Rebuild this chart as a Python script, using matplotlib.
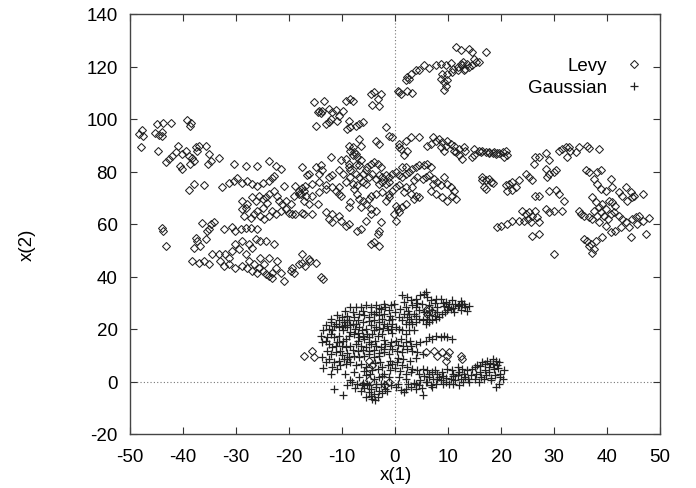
import matplotlib
matplotlib.use("Agg")
import matplotlib.pyplot as plt

# ---------------- data ----------------
levy_points = [
    # far left / upper left
    (-47.8,95.8),(-48.3,94.3),(-47.6,93.6),(-47.9,89.4),(-45.2,94.5),(-44.5,94.0),(-43.9,93.6),(-44.0,94.9),
    (-44.9,98.1),(-43.7,98.3),(-42.3,98.6),(-39.2,99.6),(-38.4,98.3),(-38.6,97.5),(-44.8,87.9),(-43.3,83.8),
    (-42.7,84.7),(-42.0,86.0),(-41.4,87.3),(-40.9,89.8),(-40.1,86.6),(-39.5,87.9),(-38.9,86.0),(-38.3,85.3),
    (-37.6,89.2),(-37.3,87.9),(-37.0,89.8),(-37.9,84.1),(-38.6,82.8),(-40.1,80.9),(-40.5,82.2),(-35.7,89.8),
    (-35.1,86.6),(-34.8,84.1),(-35.2,82.8),(-33.2,85.1),(-30.4,82.8),(-28.2,82.2),(-26.0,82.2),(-23.8,84.1),
    (-22.5,82.2),(-21.6,80.9),(-22.8,78.3),
    # band ~75
    (-38.9,72.9),(-37.9,75.2),(-36.0,74.8),(-32.6,74.1),(-31.3,75.8),(-30.4,76.4),(-29.8,77.5),(-28.8,75.8),
    (-27.9,76.4),(-26.9,75.2),(-26.0,74.5),(-25.0,75.8),(-23.8,76.4),(-23.2,77.7),(-20.9,74.3),(-18.8,74.5),
    (-18.1,72.6),(-17.5,73.6),(-17.0,74.5),(-16.6,78.7),
    # dense cluster ~65
    (-28.8,68.8),(-27.9,67.5),(-26.9,70.1),(-26.3,68.8),(-25.7,70.7),(-25.0,69.4),(-24.4,70.1),(-24.1,68.1),
    (-25.0,66.2),(-26.0,65.0),(-26.6,63.7),(-27.2,62.4),(-28.2,66.2),(-28.8,65.6),(-23.8,71.3),(-22.8,72.6),
    (-22.2,70.7),(-21.9,68.8),(-21.3,67.5),(-20.6,65.6),(-20.0,64.3),(-19.4,63.7),(-18.8,63.7),(-17.5,64.3),
    (-22.5,63.7),(-23.2,65.0),(-21.6,65.0),(-19.1,70.7),(-18.1,71.3),(-17.2,68.8),(-28.5,63.1),(-25.4,63.1),
    (-24.7,61.8),(-23.8,63.1),(-20.6,68.8),(-19.7,67.5),
    # lower left
    (-43.9,58.6),(-43.7,57.3),(-43.3,51.6),(-36.5,60.5),(-34.8,59.9),(-34.2,60.9),(-35.1,58.0),(-35.4,57.3),
    (-32.3,58.0),(-30.7,58.8),(-30.1,57.3),(-29.1,58.0),(-28.2,58.6),(-27.2,58.6),(-26.0,58.0),(-37.6,54.8),
    (-37.3,53.5),(-36.7,51.6),(-35.7,54.1),(-37.9,51.0),(-34.5,48.4),(-33.2,48.7),(-32.0,48.4),(-31.3,47.1),
    (-30.7,49.7),(-29.4,50.3),(-30.1,52.2),(-28.8,53.5),(-27.6,52.2),(-26.9,51.0),(-26.3,54.1),(-25.4,53.5),
    (-24.4,53.5),(-22.8,52.2),(-28.2,48.4),(-27.6,45.9),(-26.6,44.6),(-25.7,43.3),(-25.0,42.0),(-24.4,40.8),
    (-23.8,40.1),(-23.2,41.4),(-22.5,43.3),(-24.7,44.6),(-25.4,47.1),(-23.8,47.1),(-22.2,45.9),(-21.6,41.4),
    (-20.9,38.2),(-23.2,39.5),(-26.0,41.4),(-26.9,42.0),(-27.9,43.3),(-38.3,45.9),(-37.0,45.2),(-36.0,45.9),
    (-35.1,44.8),(-33.0,45.9),(-32.3,43.9),(-31.3,44.6),(-30.1,43.3),(-28.8,43.9),(-19.4,43.3),(-19.1,41.4),
    (-18.1,44.6),(-17.5,45.2),(-16.9,43.9),(-19.7,42.0),(-15.0,45.0),(-14.0,40.0),(-16.0,46.0),(-13.5,39.0),
    (-17.5,48.6),(-16.2,46.7),
    # top right cluster
    (11.5,127.4),(12.4,126.1),(14.0,126.7),(14.6,125.4),(17.1,125.4),(5.5,120.4),(6.4,119.5),(7.7,120.6),
    (8.6,121.0),(9.6,120.6),(10.5,121.4),(12.4,121.0),(12.7,120.4),(13.3,119.1),(14.0,119.7),(14.6,120.4),
    (15.2,121.6),(15.9,121.6),(11.8,118.5),(10.8,117.8),(9.9,117.2),(8.9,117.2),(8.6,115.3),(9.3,114.0),
    (9.6,112.7),(9.3,111.1),(9.9,114.7),(3.9,118.5),(3.0,117.2),(2.3,115.9),(2.7,115.3),(2.0,114.7),
    (4.5,118.8),(12.9,121.8),(13.6,120.9),(11.9,119.8),(13.0,118.6),(14.9,123.0),(10.9,119.0),
    # row ~110
    (0.5,110.8),(1.1,109.6),(2.3,110.5),(3.3,109.8),(0.8,110.2),(-4.6,109.6),(-3.9,110.2),(-2.7,109.6),
    (-3.3,107.7),(-4.3,105.5),(-3.1,104.8),
    # row ~100-105
    (-15.3,106.4),(-13.4,107.0),(-14.3,103.2),(-14.0,102.2),(-13.7,103.2),(-11.2,103.5),(-9.9,103.2),
    (-9.3,107.0),(-8.4,107.7),(-8.0,106.7),(-12.1,100.1),(-12.4,98.8),(-10.9,99.4),(-15.0,97.5),(-13.1,98.1),
    (-8.7,99.4),(-8.4,96.9),(-7.4,97.5),(-6.8,98.1),(-6.1,98.8),(-9.0,96.2),(-14.6,102.6),(-12.4,103.9),
    (-11.8,102.6),(-10.6,101.3),
    # near zero, upper
    (-1.7,96.9),(-1.1,93.7),(-0.5,93.1),(0.8,90.5),(0.8,89.3),(2.0,91.8),(3.0,93.3),(4.5,93.1),(1.1,88.6),
    (2.3,88.0),(1.7,86.1),(-3.6,91.8),(-3.0,90.5),(-6.8,92.4),(-6.5,89.9),(-8.7,89.9),(-8.0,89.3),(-8.4,88.0),
    (-7.7,87.4),(-7.4,86.7),(-7.1,85.4),(-8.0,86.1),(-6.5,84.2),(-6.8,82.3),(-12.1,85.4),(-10.2,84.2),
    (-9.3,84.8),(-8.7,81.6),(-8.4,80.4),(-7.4,82.3),
    # right of zero ~88
    (7.1,93.1),(7.7,91.8),(8.3,92.4),(8.9,91.2),(9.9,91.8),(10.5,90.5),(9.6,89.9),(11.1,89.9),(11.1,88.0),
    (12.1,88.6),(13.0,89.3),(13.3,88.0),(12.7,84.8),(12.1,86.1),(11.5,87.4),(14.9,88.6),(14.9,86.1),
    (15.9,88.0),(16.5,87.7),(17.7,87.4),(18.7,87.4),(19.3,87.0),(6.1,89.9),(6.7,90.5),(8.6,89.3),(9.3,88.0),
    (14.6,85.4),
    # middle dense band
    (-16.2,79.1),(-17.5,81.6),(-15.0,81.6),(-14.0,82.3),(-13.7,80.4),(-14.3,79.1),(-12.4,77.8),(-11.8,78.5),
    (-10.6,80.4),(-9.9,79.1),(-8.7,82.9),(-8.4,77.8),(-7.4,79.1),(-6.8,77.8),(-6.1,79.1),(-5.5,80.4),
    (-5.2,81.6),(-4.6,82.9),(-3.9,83.5),(-3.3,82.9),(-2.7,81.6),(-4.9,77.8),(-4.3,79.1),(-3.6,77.2),
    (-3.0,78.5),(-2.4,77.8),(-1.7,78.5),(-1.1,77.8),(-0.5,79.1),(0.1,79.7),(0.8,78.5),(1.4,77.8),(2.0,79.1),
    (2.7,79.7),(3.3,81.0),(3.9,81.6),(4.5,82.3),(5.5,82.3),(6.1,82.9),(6.7,81.6),(2.0,81.6),(1.4,81.6),
    (-2.4,75.9),(-3.0,75.3),(-1.7,75.3),(-1.1,75.9),(-6.1,75.9),(-5.5,75.3),(-7.1,74.7),(-8.0,75.3),
    (-9.3,75.9),(-10.6,74.0),(-11.8,74.0),(-13.1,74.7),(-14.3,75.9),(-15.6,75.3),(-17.2,72.7),(-17.8,71.5),
    (-16.8,70.8),(-15.6,70.8),(-14.3,72.1),(-13.1,73.4),(-11.2,72.7),(-10.6,71.5),(-10.2,70.8),(-7.7,73.4),
    (-7.1,71.5),(-6.8,69.6),(-6.1,68.9),(-4.9,69.6),(-4.6,70.8),(-3.6,71.5),(-2.4,72.1),(-1.1,71.5),
    (-0.5,72.7),(0.1,74.0),(0.8,74.7),(2.0,74.0),(3.6,76.6),(4.2,77.8),(5.2,77.2),(5.8,77.8),(6.4,78.5),
    (7.4,77.2),(8.0,75.9),(9.3,77.8),(7.1,75.3),(8.6,74.7),(9.9,75.3),(10.5,74.0),(11.1,72.7),(10.8,70.8),
    (11.5,69.6),(9.9,68.9),(8.9,70.2),(7.7,71.5),(6.7,72.7),(3.9,70.8),(4.5,70.2),(3.6,69.6),(2.0,67.7),
    (1.4,66.4),(0.1,67.0),(0.5,65.8),(0.8,64.5),(-0.2,63.9),(0.1,61.3),(-2.7,60.7),(-3.0,57.5),(-3.3,56.2),
    (-3.9,53.0),(-4.6,52.4),(-3.0,51.8),(-6.5,58.2),(-7.1,57.5),(-8.7,60.0),(-9.3,59.4),(-10.2,61.3),
    (-11.8,60.7),(-12.4,62.0),(-10.6,63.2),(-11.8,63.9),(-13.1,64.5),(-15.6,63.9),(-17.2,63.9),(-16.2,67.7),
    (-14.6,67.7),(-8.4,68.3),(-8.7,66.4),(-6.5,66.4),(-5.5,67.7),(-4.6,65.8),(-3.6,65.1),(-1.1,70.2),
    (-1.7,68.9),(3.0,71.5),(1.7,72.1),(3.3,74.0),(-5.5,61.3),(-4.6,63.9),(16.5,77.8),(17.1,76.6),(18.1,75.9),
    (16.8,74.0),(19.3,58.8),
    # right side
    (16.2,87.3),(17.1,87.3),(17.7,86.9),(18.4,86.9),(19.0,86.7),(19.6,86.9),(20.3,87.3),(20.9,87.7),
    (21.2,86.1),(20.6,85.7),(26.5,85.4),(27.2,85.7),(26.2,82.9),(28.4,87.0),(29.1,84.4),(31.0,88.0),
    (31.6,88.6),(32.2,89.3),(32.8,89.5),(33.1,88.0),(32.5,85.7),(34.1,87.3),(34.7,89.5),(36.3,89.9),
    (36.6,89.0),(38.5,88.6),(24.7,79.1),(25.3,77.8),(25.9,76.6),(28.4,81.0),(29.1,79.1),(30.0,79.7),
    (28.7,77.8),(16.5,76.6),(17.7,77.2),(18.4,75.5),(17.1,73.4),(20.9,74.7),(21.5,75.3),(22.1,75.9),
    (22.8,74.0),(23.4,76.6),(21.2,72.7),(22.1,73.0),(26.5,70.8),(27.2,70.8),(29.1,72.7),(30.3,73.0),
    (31.0,71.5),(31.9,68.7),(36.0,80.4),(36.6,79.7),(38.2,79.7),(38.8,80.4),(40.7,77.2),(37.5,77.2),
    (38.2,75.3),(38.8,73.4),(39.8,72.7),(41.0,74.0),(42.3,72.1),(43.5,74.0),(44.5,72.1),(45.1,70.8),
    (46.7,71.5),(42.9,70.8),(43.8,68.9),(44.8,70.2),(40.4,68.9),(41.0,68.3),(41.6,67.0),(37.2,70.2),
    (37.9,68.3),(38.5,66.4),(39.1,67.7),(39.8,65.8),(37.5,65.1),(38.2,63.2),(38.8,64.5),(39.5,63.2),
    (40.1,62.0),(40.7,63.9),(41.3,64.5),(42.3,63.2),(42.9,62.0),(43.5,60.7),(44.2,58.8),(44.5,55.0),
    (42.6,58.8),(41.6,57.5),(40.7,56.9),(39.8,59.4),(38.5,60.7),(37.2,62.0),(36.6,62.6),(35.0,63.9),
    (34.7,65.1),(35.7,63.2),(45.4,62.6),(46.0,63.2),(46.7,61.3),(47.9,62.3),(47.3,56.2),(44.8,62.0),
    (45.7,60.0),(35.7,54.4),(36.3,53.7),(37.0,52.4),(37.5,50.5),(37.2,48.9),(36.6,51.8),(37.9,53.7),
    (39.1,55.0),(24.0,65.1),(24.7,63.9),(25.3,64.5),(25.9,63.2),(26.5,65.1),(25.0,62.0),(25.6,60.7),
    (24.4,61.3),(26.8,62.6),(28.4,65.8),(29.1,64.5),(30.0,65.1),(31.6,65.1),(27.2,60.7),(23.4,61.3),
    (22.1,61.3),(20.0,59.4),(21.2,60.0),(25.9,55.6),(27.2,56.2),(30.0,48.6),(30.3,80.4),
    # diamonds inside the Gaussian cloud
    (-17.2,9.9),(-15.6,11.6),(-15.3,9.5),(-4.9,8.0),(-4.4,6.1),(-5.0,5.2),(-4.9,0.4),(-1.8,-1.5),(-1.1,-0.2),
    (5.8,27.1),(6.4,27.7),(7.0,26.4),(6.1,25.8),(5.8,11.2),(7.4,11.8),(8.0,9.9),(8.9,11.2),(9.9,9.9),
    (10.2,11.2),(9.6,8.0),(12.4,9.9),(12.7,8.7),
]

gauss_points = [
    # top
    (1.4,32.8),(2.3,32.2),(3.0,30.9),(3.9,31.5),(4.8,32.8),(5.5,33.4),(5.8,34.1),(6.1,32.2),(6.7,30.9),
    (7.7,31.5),(8.6,31.5),(9.6,30.2),(10.2,29.6),(10.8,30.9),(11.4,29.6),(12.1,29.0),(12.7,29.6),(10.5,27.7),
    (11.1,26.4),(9.9,27.1),(8.9,25.8),(8.3,24.5),(7.7,23.9),(7.0,23.3),(6.4,22.6),(5.8,22.0),(5.2,23.3),
    (4.5,23.9),(3.9,22.6),(3.3,22.0),(2.6,22.6),(2.0,22.0),(1.4,23.3),(0.8,24.5),(4.5,27.1),(3.9,28.3),
    (3.3,29.0),(2.0,28.3),(1.7,30.2),(2.6,25.8),(3.6,25.8),(2.3,24.5),(1.7,25.8),(13.3,28.3),(14.0,28.9),
    (13.6,27.0),(12.4,27.4),(11.8,28.6),(5.5,26.4),(6.4,25.2),(7.0,27.1),(8.0,28.3),(9.2,28.9),
    (9.0,30.0),(10.0,28.5),(11.0,28.0),(12.5,30.5),(13.0,29.5),(8.0,26.5),(9.5,26.5),(7.5,25.0),(6.0,24.0),
    (4.0,25.0),(3.0,24.0),(5.0,29.5),(6.5,29.0),(7.5,29.8),(4.2,30.0),(2.5,27.0),(1.0,27.5),
    # left upper mass
    (-7.4,28.3),(-6.5,28.3),(-5.5,29.0),(-4.6,28.3),(-3.6,29.0),(-2.7,27.7),(-1.8,28.3),(-0.8,29.0),
    (-0.2,29.6),(-1.1,27.1),(-2.1,25.8),(-3.0,25.2),(-4.0,25.8),(-4.9,24.5),(-5.8,25.2),(-6.8,25.8),
    (-7.7,24.5),(-8.7,23.3),(-9.6,22.6),(-10.6,23.3),(-11.2,22.0),(-11.8,19.5),(-12.1,18.2),(-11.5,16.9),
    (-10.6,20.7),(-9.9,19.5),(-9.0,20.7),(-8.4,21.4),(-7.4,22.0),(-6.8,20.7),(-6.2,19.5),(-5.5,20.1),
    (-4.6,21.4),(-3.6,20.7),(-3.0,22.6),(-2.1,22.0),(-1.1,23.3),(-0.5,22.0),(0.1,20.7),(0.8,20.1),
    (1.4,19.5),(2.0,18.2),(2.6,19.5),(3.6,19.5),(-1.4,19.5),(-2.4,18.2),(-3.3,17.5),(-4.3,18.2),(-4.9,16.9),
    (-5.8,16.3),(-6.8,16.9),(-7.7,18.2),(-8.7,17.5),(-9.3,16.3),(-9.9,15.6),(-10.6,15.0),(-11.2,13.7),
    (-11.8,13.1),(-12.5,14.4),(-13.1,15.6),(-14.0,17.5),(-13.7,15.0),(-12.8,11.8),(-12.1,10.6),(-11.2,11.2),
    (-10.3,11.8),(-9.3,13.1),(-8.4,13.7),(-7.4,14.4),(-6.5,13.7),(-5.5,13.1),(-4.6,14.4),(-3.6,13.7),
    (-2.7,13.1),(-1.8,14.4),(-0.8,15.0),(0.1,15.6),(1.1,16.3),(2.0,15.0),(3.0,13.7),(3.9,14.4),(4.8,15.0),
    (5.8,15.6),(6.4,16.9),(7.0,16.3),(7.7,17.5),(8.6,16.9),(9.2,17.5),(9.9,16.9),(10.8,16.3),
    (-8.0,26.5),(-9.0,25.0),(-10.0,24.5),(-7.0,23.5),(-6.0,22.5),(-5.0,23.0),(-4.0,23.5),(-8.5,19.0),
    (-7.5,20.0),(-10.5,17.5),(-11.5,21.0),(-12.5,20.0),(-9.5,21.5),(-3.5,26.5),(-2.5,24.0),(-1.5,21.0),
    (-0.5,18.5),(-6.0,17.5),(-7.0,15.5),(-8.0,12.0),(-10.0,10.0),(-9.0,8.5),
    (-12.0,24.0),(-11.0,25.5),(-9.5,27.0),(-8.5,28.5),(-6.0,27.0),(-4.5,26.5),(-3.0,28.0),(-2.0,29.5),
    (-1.0,25.0),(0.0,26.5),(-0.5,24.0),(-9.0,23.5),(-8.0,22.0),(-10.0,21.0),(-12.0,22.5),(-13.0,21.5),
    (-13.5,19.5),(-12.8,17.0),(-11.0,15.0),(-10.0,13.5),(-9.0,11.0),(-7.0,11.5),(-6.0,12.0),(-5.0,11.8),
    (-4.0,12.0),(-3.0,11.0),(-2.0,12.5),(-1.0,13.5),(0.5,14.0),(1.5,13.5),(2.8,15.5),(-2.0,16.0),
    (-3.8,15.5),(-5.0,15.0),(-7.0,18.5),(-5.2,18.0),(-4.0,19.5),(-3.0,20.0),(-2.2,20.5),(-0.8,20.0),
    # middle and lower band
    (-0.5,12.5),(0.4,11.8),(1.4,11.2),(2.3,12.5),(3.3,11.8),(4.2,11.2),(5.2,10.6),(-1.1,10.6),(-2.1,11.2),
    (-3.0,9.9),(-4.0,9.3),(-4.9,10.6),(-5.8,9.9),(-6.8,9.3),(-7.7,9.9),(-8.7,9.3),(-9.6,8.7),(-10.6,8.0),
    (-11.5,7.4),(-12.5,8.7),(-13.1,7.4),(-13.7,9.3),(-11.8,5.5),(-10.9,4.9),(-10.3,6.1),(-9.3,6.8),
    (-8.4,7.4),(-7.4,6.1),(-6.5,6.8),(-5.5,5.5),(-4.3,4.2),(-3.3,4.9),(-2.4,5.5),(-1.4,6.1),(-0.5,6.8),
    (0.4,7.4),(1.4,6.1),(2.3,5.5),(3.3,4.9),(4.2,4.2),(5.2,4.9),(6.1,4.2),(7.0,3.6),(8.0,2.9),(8.9,3.6),
    (9.9,4.9),(10.8,4.2),(11.8,5.5),(12.7,4.9),(13.6,4.2),(14.6,4.9),(15.5,6.1),(16.5,7.4),(17.4,8.0),
    (18.4,8.7),(19.0,8.0),(19.6,7.4),(19.3,6.1),(18.7,4.9),(17.7,3.6),(17.1,2.3),(16.2,1.7),(15.2,2.9),
    (14.3,2.3),(13.3,1.7),(12.4,1.0),(11.4,0.4),(10.5,1.0),(9.6,-0.2),(8.6,0.4),(7.7,-0.9),(6.7,-1.5),
    (5.8,-0.2),(4.8,0.4),(3.9,-0.9),(3.0,-2.1),(2.0,-2.8),(1.1,-3.4),(0.1,-2.1),(-0.8,-1.5),(-1.8,-2.8),
    (-2.7,-0.9),(-3.6,-2.1),(-4.6,-2.8),(-4.0,-4.7),(-3.3,-5.9),(-4.3,-6.6),(-5.2,-0.9),(-6.2,-1.5),
    (-7.1,-0.9),(-8.1,-0.2),(-9.0,-1.5),(-9.9,-5.3),(-11.5,-2.8),(-6.8,1.7),(-5.5,2.3),(-3.0,1.7),
    (-1.1,1.7),(0.8,1.7),(2.0,1.0),(6.4,1.7),(8.3,1.7),(10.2,-0.9),(12.1,-1.5),(14.0,-0.2),(15.8,-0.2),
    (18.1,0.4),(19.9,1.7),(20.6,4.2),(20.3,1.0),(19.6,-0.9),(5.2,-5.3),(1.7,-4.0),(3.9,-2.8),(19.0,-2.1),
    (18.5,6.5),(19.5,5.0),(17.8,5.5),(18.9,2.5),(17.0,4.5),(16.0,3.5),(10.9,2.0),(11.8,2.5),(12.9,0.0),
    (13.8,0.8),(9.6,1.5),(7.2,0.8),(6.0,0.0),(4.5,-1.5),(3.5,-0.5),(-5.8,-2.5),(-5.0,-4.0),(-4.5,-5.5),
    (-6.5,-3.5),(-3.0,-3.5),(-2.0,-1.0),(-7.5,-2.5),(-8.5,0.5),(-2.8,7.5),(-3.8,7.0),(-1.0,8.0),(0.5,9.0),
    (1.5,8.5),(2.8,8.0),(4.0,8.8),(-2.0,3.0),(-4.8,2.8),(-5.8,4.0),(-7.8,3.5),(-9.5,3.0),(-12.0,3.0),
    (-13.5,5.0),
    (15.0,5.5),(16.0,6.0),(17.0,6.5),(18.0,7.0),(19.8,3.0),(18.2,1.5),(16.8,0.8),(15.0,1.0),(13.0,3.0),
    (12.0,3.8),(11.0,3.0),(9.0,2.0),(8.0,1.0),(7.5,4.5),(6.5,3.0),(5.5,2.0),(4.5,2.8),(3.0,3.5),(2.0,3.0),
    (1.0,4.0),(0.0,5.0),(-1.0,4.5),(-2.5,2.0),(-4.0,1.0),(-5.0,-1.5),(-6.0,-0.5),(-3.5,-1.0),(-2.5,-4.5),
    (-1.5,-3.5),(0.5,-1.0),(2.5,-1.0),(5.0,-2.5),(7.0,-2.0),(9.0,-1.0),(11.0,-0.8),(-5.5,-6.0),(-3.8,-7.0),
]

levy_x = [p[0] for p in levy_points]
levy_y = [p[1] for p in levy_points]
gauss_x = [p[0] for p in gauss_points]
gauss_y = [p[1] for p in gauss_points]

x_ticks = [-50, -40, -30, -20, -10, 0, 10, 20, 30, 40, 50]
y_ticks = [-20, 0, 20, 40, 60, 80, 100, 120, 140]

# ---------------- figure ----------------
plt.rcParams['font.family'] = ['Liberation Sans', 'DejaVu Sans']
plt.rcParams['axes.unicode_minus'] = False
fig = plt.figure(figsize=(6.96, 4.89), dpi=100)
ax = fig.add_axes([130/696, 54/489, 530/696, 420/489])

ax.axhline(0, color='#777777', lw=0.8, ls=(0, (1, 2)), zorder=1)
ax.axvline(0, color='#777777', lw=0.8, ls=(0, (1, 2)), zorder=1)

ax.plot(levy_x, levy_y, ls='none', marker='D', markersize=4.3, markerfacecolor='none',
        markeredgecolor='#222222', markeredgewidth=0.75, label='Levy', zorder=3)
ax.plot(gauss_x, gauss_y, ls='none', marker='+', markersize=6, markeredgecolor='#222222',
        markeredgewidth=0.9, label='Gaussian', zorder=3)

ax.set_xlim(-50, 50)
ax.set_ylim(-20, 140)
ax.set_xticks(x_ticks)
ax.set_yticks(y_ticks)
ax.tick_params(direction='in', length=5, width=0.8, top=True, right=True, labelsize=13.5,
               color='#333333')
ax.tick_params(axis='x', pad=10)
ax.tick_params(axis='y', pad=9)
for s in ax.spines.values():
    s.set_color('#444444')
    s.set_linewidth(1.0)

fig.text(396/696, 1 - 476/489, 'x(1)', ha='center', va='center', fontsize=13.5)
fig.text(27/696, 1 - 245/489, 'x(2)', ha='center', va='center', rotation=90, fontsize=13.5)

leg = ax.legend(loc='upper right', bbox_to_anchor=(0.9925, 0.915), frameon=False, markerfirst=False,
                fontsize=13.5, handlelength=1.5, handletextpad=0.7, labelspacing=0.25,
                borderpad=0.4, borderaxespad=0.0)

fig.savefig('out.png', dpi=100)
